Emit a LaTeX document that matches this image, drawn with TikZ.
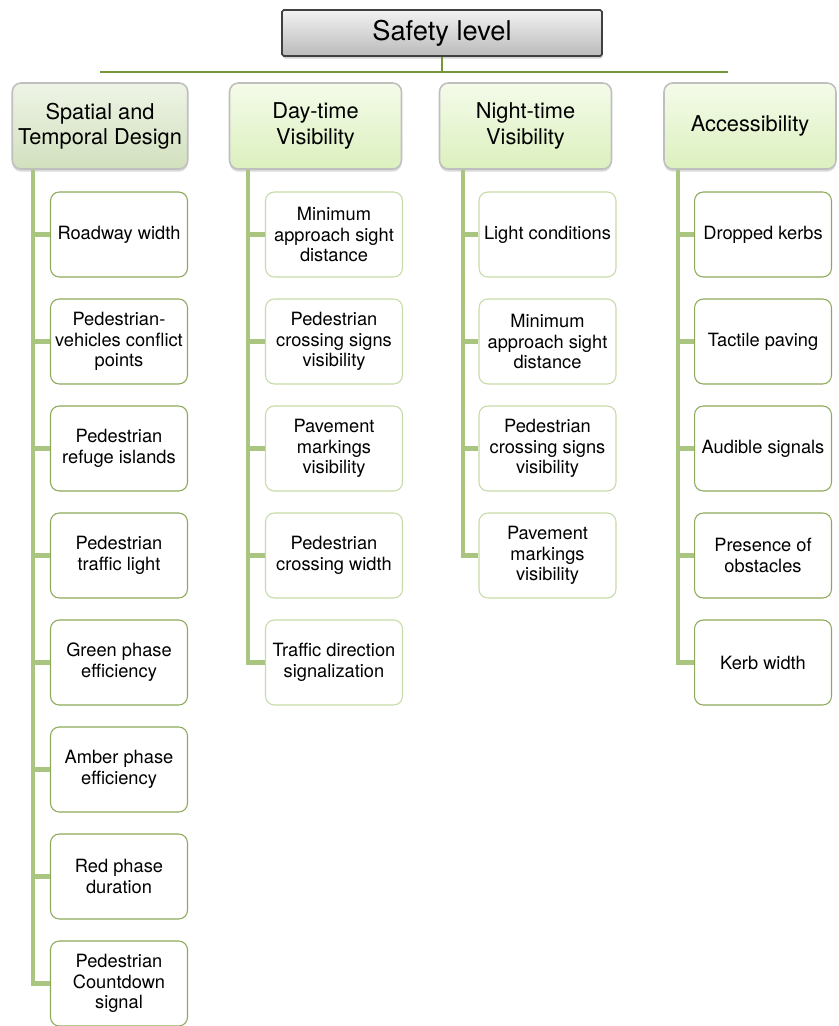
\documentclass[tikz,border=0pt]{standalone}
\usepackage{fontspec}
\setmainfont{TeX Gyre Heros}
\usepackage{tikz}
\usetikzlibrary{positioning,calc,shadows}
\usepackage{xcolor}

\definecolor{barGreen}{HTML}{779838}
\definecolor{trunkGreen}{HTML}{AAC580}
\definecolor{darkEdge}{HTML}{8DAA5A}
\definecolor{lightEdge}{HTML}{C6DBA8}
\definecolor{sageTop}{HTML}{EEF4E6}
\definecolor{sageBot}{HTML}{D2E0BE}
\definecolor{limeTop}{HTML}{F4FBEA}
\definecolor{limeBot}{HTML}{DCF0BE}

\tikzset{
    topbox/.style={draw=black!75, line width=0.9pt, top color=black!5, bottom color=black!27,
        minimum width=6.4cm, minimum height=0.92cm, rounded corners=1pt,
        drop shadow={shadow xshift=0.5pt, shadow yshift=-1.5pt, opacity=0.35},
        font=\fontsize{15.5}{18}\selectfont},
    catbox/.style={draw=black!25, line width=0.9pt, rounded corners=5pt,
        top color=limeTop, bottom color=limeBot,
        minimum width=3.44cm, minimum height=1.72cm, align=center,
        drop shadow={shadow xshift=0pt, shadow yshift=-1.5pt, opacity=0.3},
        font=\fontsize{12.4}{14.4}\selectfont},
    leafbox/.style={draw=darkEdge, line width=0.6pt, fill=white, rounded corners=5pt,
        minimum width=2.74cm, minimum height=1.7cm, align=center, inner xsep=1pt,
        font=\fontsize{10.4}{11.8}\selectfont},
    paleleaf/.style={leafbox, draw=lightEdge},
    trunk/.style={trunkGreen, line width=2.3pt},
}

\begin{document}
\begin{tikzpicture}[x=0.02cm, y=-0.02cm]
    \useasboundingbox (0,0) rectangle (838,1026);

    % Top
    \node[topbox] (safety) at (442,33) {Safety level};
    \coordinate (barL) at (100,72);
    \coordinate (barR) at (728,72);
    \draw[barGreen, line width=1.5pt] (barL) -- (barR);
    \draw[barGreen, line width=1.5pt] (safety.south) -- (safety.south |- barL);

    % Categories
    \node[catbox, top color=sageTop, bottom color=sageBot] (spatial) at (100,126) {Spatial and\\Temporal Design};
    \node[catbox] (day) at (315.5,126) {Day-time\\Visibility};
    \node[catbox] (night) at (525.5,126) {Night-time\\Visibility};
    \node[catbox] (access) at (750,126) {Accessibility};

    % Spatial and Temporal Design
    \node[leafbox] (sp1) at (119,234.5) {Roadway width};
    \node[leafbox] (sp2) at (119,341.5) {Pedestrian-\\vehicles conflict\\points};
    \node[leafbox] (sp3) at (119,448.5) {Pedestrian\\refuge islands};
    \node[leafbox] (sp4) at (119,555.5) {Pedestrian\\traffic light};
    \node[leafbox] (sp5) at (119,662.5) {Green phase\\efficiency};
    \node[leafbox] (sp6) at (119,769.5) {Amber phase\\efficiency};
    \node[leafbox] (sp7) at (119,876.5) {Red phase\\duration};
    \node[leafbox] (sp8) at (119,983.5) {Pedestrian\\Countdown\\signal};

    % Day-time Visibility
    \node[paleleaf] (dv1) at (334,234.5) {Minimum\\approach sight\\distance};
    \node[paleleaf] (dv2) at (334,341.5) {Pedestrian\\crossing signs\\visibility};
    \node[paleleaf] (dv3) at (334,448.5) {Pavement\\markings\\visibility};
    \node[paleleaf] (dv4) at (334,555.5) {Pedestrian\\crossing width};
    \node[paleleaf] (dv5) at (334,662.5) {Traffic direction\\signalization};

    % Night-time Visibility
    \node[paleleaf] (nv1) at (547.5,234.5) {Light conditions};
    \node[paleleaf] (nv2) at (547.5,341.5) {Minimum\\approach sight\\distance};
    \node[paleleaf] (nv3) at (547.5,448.5) {Pedestrian\\crossing signs\\visibility};
    \node[paleleaf] (nv4) at (547.5,555.5) {Pavement\\markings\\visibility};

    % Accessibility
    \node[leafbox] (ac1) at (763,234.5) {Dropped kerbs};
    \node[leafbox] (ac2) at (763,341.5) {Tactile paving};
    \node[leafbox] (ac3) at (763,448.5) {Audible signals};
    \node[leafbox] (ac4) at (763,555.5) {Presence of\\obstacles};
    \node[leafbox] (ac5) at (763,662.5) {Kerb width};

    % Trunks
    \coordinate (spT) at (33,0);
    \coordinate (dvT) at (248,0);
    \coordinate (nvT) at (463,0);
    \coordinate (acT) at (678,0);

    \draw[trunk] (spT |- spatial.south) |- (sp8.west);
    \draw[trunk] (spT |- sp1.west) -- (sp1.west);
    \draw[trunk] (spT |- sp2.west) -- (sp2.west);
    \draw[trunk] (spT |- sp3.west) -- (sp3.west);
    \draw[trunk] (spT |- sp4.west) -- (sp4.west);
    \draw[trunk] (spT |- sp5.west) -- (sp5.west);
    \draw[trunk] (spT |- sp6.west) -- (sp6.west);
    \draw[trunk] (spT |- sp7.west) -- (sp7.west);

    \draw[trunk] (dvT |- day.south) |- (dv5.west);
    \draw[trunk] (dvT |- dv1.west) -- (dv1.west);
    \draw[trunk] (dvT |- dv2.west) -- (dv2.west);
    \draw[trunk] (dvT |- dv3.west) -- (dv3.west);
    \draw[trunk] (dvT |- dv4.west) -- (dv4.west);

    \draw[trunk] (nvT |- night.south) |- (nv4.west);
    \draw[trunk] (nvT |- nv1.west) -- (nv1.west);
    \draw[trunk] (nvT |- nv2.west) -- (nv2.west);
    \draw[trunk] (nvT |- nv3.west) -- (nv3.west);

    \draw[trunk] (acT |- access.south) |- (ac5.west);
    \draw[trunk] (acT |- ac1.west) -- (ac1.west);
    \draw[trunk] (acT |- ac2.west) -- (ac2.west);
    \draw[trunk] (acT |- ac3.west) -- (ac3.west);
    \draw[trunk] (acT |- ac4.west) -- (ac4.west);
\end{tikzpicture}
\end{document}
